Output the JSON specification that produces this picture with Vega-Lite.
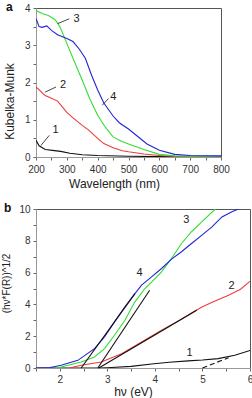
{
  "$schema": "https://vega.github.io/schema/vega-lite/v6.json",
  "padding": {"left": 0, "top": 0, "right": 3, "bottom": 0},
  "bounds": "flush",
  "spacing": 52,
  "config": {
    "font": "Liberation Sans",
    "view": {"stroke": "#555", "strokeWidth": 1},
    "axis": {
      "domainColor": "#999",
      "tickColor": "#666",
      "tickSize": 3,
      "tickCount": 30,
      "format": "~r",
      "labelFontSize": 10,
      "labelColor": "#333",
      "labelOverlap": false,
      "labelFlush": false,
      "titleFontSize": 12,
      "titleFontWeight": "normal",
      "titleColor": "#222",
      "grid": false,
      "labelPadding": 3
    },
    "title": {"fontSize": 12, "fontWeight": "bold", "anchor": "start", "frame": "bounds", "color": "#111", "dx": 3}
  },
  "datasets": {
    "km": [
      {"s": "1", "wl": 200, "v": 0.45}, {"s": "1", "wl": 210, "v": 0.3}, {"s": "1", "wl": 230, "v": 0.2}, {"s": "1", "wl": 260, "v": 0.17},
      {"s": "1", "wl": 280, "v": 0.15}, {"s": "1", "wl": 310, "v": 0.1}, {"s": "1", "wl": 350, "v": 0.06}, {"s": "1", "wl": 400, "v": 0.04},
      {"s": "1", "wl": 500, "v": 0.02}, {"s": "1", "wl": 600, "v": 0.01}, {"s": "1", "wl": 800, "v": 0.0},
      {"s": "2", "wl": 200, "v": 1.88}, {"s": "2", "wl": 230, "v": 1.65}, {"s": "2", "wl": 250, "v": 1.58}, {"s": "2", "wl": 270, "v": 1.5},
      {"s": "2", "wl": 290, "v": 1.3}, {"s": "2", "wl": 300, "v": 1.2}, {"s": "2", "wl": 320, "v": 1.05}, {"s": "2", "wl": 350, "v": 0.85},
      {"s": "2", "wl": 370, "v": 0.73}, {"s": "2", "wl": 400, "v": 0.5}, {"s": "2", "wl": 420, "v": 0.36}, {"s": "2", "wl": 450, "v": 0.25},
      {"s": "2", "wl": 480, "v": 0.17}, {"s": "2", "wl": 500, "v": 0.14}, {"s": "2", "wl": 550, "v": 0.08}, {"s": "2", "wl": 600, "v": 0.04},
      {"s": "2", "wl": 650, "v": 0.02}, {"s": "2", "wl": 800, "v": 0.01},
      {"s": "3", "wl": 200, "v": 3.93}, {"s": "3", "wl": 220, "v": 3.85}, {"s": "3", "wl": 240, "v": 3.8}, {"s": "3", "wl": 260, "v": 3.7},
      {"s": "3", "wl": 270, "v": 3.6}, {"s": "3", "wl": 280, "v": 3.45}, {"s": "3", "wl": 300, "v": 3.05}, {"s": "3", "wl": 325, "v": 2.55},
      {"s": "3", "wl": 350, "v": 2.06}, {"s": "3", "wl": 375, "v": 1.55}, {"s": "3", "wl": 400, "v": 1.12}, {"s": "3", "wl": 425, "v": 0.8},
      {"s": "3", "wl": 450, "v": 0.54}, {"s": "3", "wl": 475, "v": 0.43}, {"s": "3", "wl": 500, "v": 0.35}, {"s": "3", "wl": 550, "v": 0.2},
      {"s": "3", "wl": 600, "v": 0.07}, {"s": "3", "wl": 650, "v": 0.03}, {"s": "3", "wl": 700, "v": 0.02}, {"s": "3", "wl": 800, "v": 0.02},
      {"s": "4", "wl": 200, "v": 3.72}, {"s": "4", "wl": 210, "v": 3.5}, {"s": "4", "wl": 220, "v": 3.48}, {"s": "4", "wl": 235, "v": 3.52},
      {"s": "4", "wl": 250, "v": 3.4}, {"s": "4", "wl": 270, "v": 3.28}, {"s": "4", "wl": 300, "v": 3.18}, {"s": "4", "wl": 320, "v": 3.1},
      {"s": "4", "wl": 340, "v": 2.9}, {"s": "4", "wl": 360, "v": 2.65}, {"s": "4", "wl": 380, "v": 2.2}, {"s": "4", "wl": 400, "v": 1.8},
      {"s": "4", "wl": 420, "v": 1.45}, {"s": "4", "wl": 450, "v": 1.1}, {"s": "4", "wl": 470, "v": 0.92}, {"s": "4", "wl": 500, "v": 0.75},
      {"s": "4", "wl": 530, "v": 0.55}, {"s": "4", "wl": 560, "v": 0.35}, {"s": "4", "wl": 600, "v": 0.18}, {"s": "4", "wl": 650, "v": 0.07},
      {"s": "4", "wl": 700, "v": 0.04}, {"s": "4", "wl": 800, "v": 0.03}
    ],
    "kmLabels": [
      {"s": "1", "wl": 254, "v": 0.72, "x1": 216, "y1": 0.31, "x2": 243, "y2": 0.58},
      {"s": "2", "wl": 278, "v": 1.92, "x1": 229, "y1": 1.74, "x2": 265, "y2": 1.88},
      {"s": "3", "wl": 322, "v": 3.71, "x1": 270, "y1": 3.58, "x2": 308, "y2": 3.71},
      {"s": "4", "wl": 441, "v": 1.61, "x1": 415, "y1": 1.39, "x2": 435, "y2": 1.57}
    ],
    "tauc": [
      {"s": "1", "e": 1.5, "v": 0}, {"s": "1", "e": 2.8, "v": 0}, {"s": "1", "e": 3.0, "v": 0.02}, {"s": "1", "e": 3.5, "v": 0.1},
      {"s": "1", "e": 3.93, "v": 0.25}, {"s": "1", "e": 4.3, "v": 0.36}, {"s": "1", "e": 4.7, "v": 0.45}, {"s": "1", "e": 5.0, "v": 0.5},
      {"s": "1", "e": 5.33, "v": 0.59}, {"s": "1", "e": 5.68, "v": 0.8}, {"s": "1", "e": 6.0, "v": 1.1},
      {"s": "2", "e": 2.2, "v": 0}, {"s": "2", "e": 2.45, "v": 0.17}, {"s": "2", "e": 2.87, "v": 0.38}, {"s": "2", "e": 3.3, "v": 0.9},
      {"s": "2", "e": 3.72, "v": 1.64}, {"s": "2", "e": 4.14, "v": 2.37}, {"s": "2", "e": 4.5, "v": 2.98}, {"s": "2", "e": 4.85, "v": 3.6},
      {"s": "2", "e": 5.0, "v": 3.85}, {"s": "2", "e": 5.23, "v": 4.16}, {"s": "2", "e": 5.55, "v": 4.58}, {"s": "2", "e": 5.8, "v": 4.95},
      {"s": "2", "e": 6.0, "v": 5.45},
      {"s": "3", "e": 1.9, "v": 0}, {"s": "3", "e": 2.03, "v": 0.06}, {"s": "3", "e": 2.45, "v": 0.38}, {"s": "3", "e": 2.73, "v": 0.69},
      {"s": "3", "e": 2.94, "v": 1.22}, {"s": "3", "e": 3.15, "v": 2.06}, {"s": "3", "e": 3.37, "v": 3.0}, {"s": "3", "e": 3.58, "v": 4.16},
      {"s": "3", "e": 3.79, "v": 5.0}, {"s": "3", "e": 3.93, "v": 5.4}, {"s": "3", "e": 4.14, "v": 6.05}, {"s": "3", "e": 4.35, "v": 6.89},
      {"s": "3", "e": 4.56, "v": 7.83}, {"s": "3", "e": 4.77, "v": 8.57}, {"s": "3", "e": 4.99, "v": 9.2}, {"s": "3", "e": 5.27, "v": 10.0},
      {"s": "4", "e": 1.5, "v": 0}, {"s": "4", "e": 1.8, "v": 0.03}, {"s": "4", "e": 2.03, "v": 0.17}, {"s": "4", "e": 2.38, "v": 0.48},
      {"s": "4", "e": 2.73, "v": 1.22}, {"s": "4", "e": 2.94, "v": 1.95}, {"s": "4", "e": 3.15, "v": 2.9}, {"s": "4", "e": 3.37, "v": 3.84},
      {"s": "4", "e": 3.58, "v": 4.68}, {"s": "4", "e": 3.72, "v": 5.21}, {"s": "4", "e": 3.93, "v": 5.73}, {"s": "4", "e": 4.14, "v": 6.26},
      {"s": "4", "e": 4.35, "v": 6.85}, {"s": "4", "e": 4.56, "v": 7.31}, {"s": "4", "e": 4.77, "v": 7.83}, {"s": "4", "e": 4.99, "v": 8.36},
      {"s": "4", "e": 5.2, "v": 8.88}, {"s": "4", "e": 5.41, "v": 9.5}, {"s": "4", "e": 5.62, "v": 9.83}, {"s": "4", "e": 5.76, "v": 10.0}
    ],
    "fits": [
      {"s": "2", "e1": 2.82, "v1": 0, "e2": 4.88, "v2": 3.63},
      {"s": "3", "e1": 2.8, "v1": 0, "e2": 3.89, "v2": 4.89},
      {"s": "4", "e1": 2.45, "v1": 0, "e2": 3.58, "v2": 4.68}
    ],
    "taucLabels": [
      {"s": "1", "e": 4.73, "v": 0.95},
      {"s": "2", "e": 5.61, "v": 5.15},
      {"s": "3", "e": 4.66, "v": 9.3},
      {"s": "4", "e": 3.68, "v": 5.95}
    ]
  },
  "vconcat": [
    {
      "title": {"text": "a", "offset": -11},
      "width": 185,
      "height": 149,
      "layer": [
        {
          "data": {"name": "km"},
          "mark": {"type": "line", "strokeWidth": 1.1, "clip": true},
          "encoding": {
            "x": {"field": "wl", "type": "quantitative", "scale": {"domain": [200, 800], "nice": false},
              "axis": {"title": "Wavelength (nm)", "values": [200, 250, 300, 350, 400, 450, 500, 550, 600, 650, 700, 750, 800],
                "format": "d", "tickCount": 30, "labelExpr": "datum.value % 100 === 0 ? datum.label : ''", "labelOverlap": false,
                "labelPadding": 4, "titlePadding": 4, "titleX": 78}},
            "y": {"field": "v", "type": "quantitative", "scale": {"domain": [0, 4], "nice": false},
              "axis": {"title": "Kubelka-Munk", "values": [0, 0.5, 1, 1.5, 2, 2.5, 3, 3.5, 4],
                "tickCount": 30, "labelExpr": "datum.value % 1 === 0 ? datum.label : ''", "labelOverlap": false,
                "minExtent": 18, "maxExtent": 18, "titlePadding": 2, "titleY": 93}},
            "color": {"field": "s", "type": "nominal", "legend": null,
              "scale": {"domain": ["1", "2", "3", "4"], "range": ["#111111", "#ee3b3b", "#33dd33", "#2424d6"]}}
          }
        },
        {
          "data": {"name": "kmLabels"},
          "mark": {"type": "rule", "color": "#333", "strokeWidth": 0.9},
          "encoding": {
            "x": {"field": "x1", "type": "quantitative"},
            "y": {"field": "y1", "type": "quantitative"},
            "x2": {"field": "x2"},
            "y2": {"field": "y2"}
          }
        },
        {
          "data": {"name": "kmLabels"},
          "mark": {"type": "text", "fontSize": 11, "color": "#222", "dx": 3},
          "encoding": {
            "x": {"field": "wl", "type": "quantitative"},
            "y": {"field": "v", "type": "quantitative"},
            "text": {"field": "s"}
          }
        }
      ]
    },
    {
      "title": {"text": "b", "offset": -11},
      "width": 214,
      "height": 159,
      "layer": [
        {
          "data": {"name": "tauc"},
          "mark": {"type": "line", "strokeWidth": 1.1, "clip": true},
          "encoding": {
            "x": {"field": "e", "type": "quantitative", "scale": {"domain": [1.5, 6], "nice": false},
              "axis": {"title": "hν (eV)", "values": [1.5, 2, 2.5, 3, 3.5, 4, 4.5, 5, 5.5, 6],
                "tickCount": 30, "labelExpr": "datum.value % 1 === 0 ? datum.label : ''", "labelOverlap": false,
                "labelPadding": 3, "titlePadding": 2, "titleX": 97}},
            "y": {"field": "v", "type": "quantitative", "scale": {"domain": [0, 10], "nice": false},
              "axis": {"title": "(hν*F(R))^1/2", "values": [0, 1, 2, 3, 4, 5, 6, 7, 8, 9, 10],
                "tickCount": 30, "labelExpr": "datum.value % 2 === 0 ? datum.label : ''", "labelOverlap": false,
                "minExtent": 18, "maxExtent": 18, "titlePadding": 7, "titleFontSize": 10, "titleY": 74}},
            "color": {"field": "s", "type": "nominal", "legend": null,
              "scale": {"domain": ["1", "2", "3", "4"], "range": ["#111111", "#ee3b3b", "#33dd33", "#2424d6"]}}
          }
        },
        {
          "data": {"name": "fits"},
          "mark": {"type": "rule", "color": "#111", "strokeWidth": 1.1},
          "encoding": {
            "x": {"field": "e1", "type": "quantitative"},
            "y": {"field": "v1", "type": "quantitative"},
            "x2": {"field": "e2"},
            "y2": {"field": "v2"}
          }
        },
        {
          "data": {"values": [{"e1": 5.0, "v1": 0, "e2": 5.55, "v2": 0.65}]},
          "mark": {"type": "rule", "color": "#111", "strokeWidth": 1.1, "strokeDash": [5, 3]},
          "encoding": {
            "x": {"field": "e1", "type": "quantitative"},
            "y": {"field": "v1", "type": "quantitative"},
            "x2": {"field": "e2"},
            "y2": {"field": "v2"}
          }
        },
        {
          "data": {"name": "taucLabels"},
          "mark": {"type": "text", "fontSize": 11, "color": "#222"},
          "encoding": {
            "x": {"field": "e", "type": "quantitative"},
            "y": {"field": "v", "type": "quantitative"},
            "text": {"field": "s"}
          }
        }
      ]
    }
  ]
}
